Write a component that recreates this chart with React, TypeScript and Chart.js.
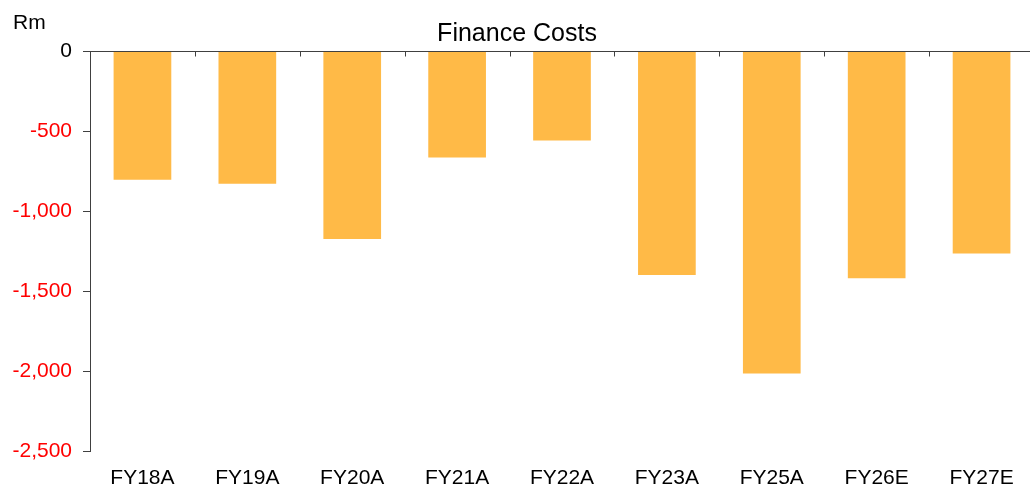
import React, { useEffect, useRef } from "react";
import { Chart, registerables } from "chart.js";

Chart.register(...registerables);

const categories = ["FY18A", "FY19A", "FY20A", "FY21A", "FY22A", "FY23A", "FY25A", "FY26E", "FY27E"];
const financeCosts = [-805, -830, -1175, -665, -560, -1400, -2015, -1420, -1265];
const yMin = -2500;
const yMax = 0;
const yStep = 500;
const titleText = "Finance Costs";
const unitText = "Rm";

const FONT = "'Liberation Sans', Arial, sans-serif";
const AXIS_COLOR = "#404040";

const fmt = new Intl.NumberFormat("en-US");

const axisPlugin = {
  id: "zeroAxis",
  afterDatasetsDraw(chart: any) {
    const { ctx, chartArea, scales } = chart;
    const y0 = Math.round(scales.y.getPixelForValue(0)) + 0.5;
    const xs = scales.x;
    ctx.save();
    ctx.strokeStyle = AXIS_COLOR;
    ctx.lineWidth = 1;
    ctx.beginPath();
    ctx.moveTo(chartArea.left, y0);
    ctx.lineTo(chartArea.right, y0);
    const n = categories.length;
    for (let i = 1; i < n; i++) {
      const bx = Math.round((xs.getPixelForValue(i - 1) + xs.getPixelForValue(i)) / 2) + 0.5;
      ctx.moveTo(bx, y0);
      ctx.lineTo(bx, y0 + 5);
    }
    ctx.stroke();
    ctx.fillStyle = "#000000";
    ctx.font = `21px ${FONT}`;
    ctx.textAlign = "left";
    ctx.textBaseline = "alphabetic";
    ctx.fillText(unitText, 13, 28.5);
    ctx.restore();
  },
};

export default function App() {
  const ref = useRef<HTMLCanvasElement | null>(null);
  useEffect(() => {
    if (!ref.current) return;
    const chart = new Chart(ref.current, {
      type: "bar",
      data: {
        labels: categories,
        datasets: [
          {
            data: financeCosts,
            backgroundColor: "#FFBA47",
            borderWidth: 0,
            categoryPercentage: 1,
            barPercentage: 0.55,
          },
        ],
      },
      options: {
        animation: false,
        responsive: false,
        devicePixelRatio: 1,
        layout: { padding: { top: 0, left: 0, right: 2, bottom: 0 } },
        plugins: {
          legend: { display: false },
          tooltip: { enabled: false },
          title: {
            display: true,
            text: titleText,
            color: "#000000",
            font: { family: FONT, size: 25, weight: "normal" },
            padding: { top: 19, bottom: 2 },
          },
        },
        scales: {
          x: {
            grid: { display: false },
            border: { display: false },
            ticks: {
              color: "#000000",
              font: { family: FONT, size: 21 },
              padding: 7,
              maxRotation: 0,
              autoSkip: false,
            },
            afterFit(scale: any) {
              scale.height = 38;
            },
          },
          y: {
            min: yMin,
            max: yMax,
            grid: {
              display: true,
              drawOnChartArea: false,
              tickLength: 7,
              color: AXIS_COLOR,
            },
            border: { display: true, color: AXIS_COLOR },
            ticks: {
              stepSize: yStep,
              padding: 11,
              font: { family: FONT, size: 21 },
              color: (c: any) => (c.tick && c.tick.value < 0 ? "#FF0000" : "#000000"),
              callback: (v: any) => fmt.format(Number(v)),
            },
            afterFit(scale: any) {
              scale.width = 90;
            },
          },
        },
      },
      plugins: [axisPlugin],
    });
    return () => chart.destroy();
  }, []);
  return (
    <div style={{ position: "fixed", left: 0, top: 0, width: 1030, height: 489, overflow: "hidden", background: "#fff" }}>
      <canvas ref={ref} width={1036} height={489} style={{ display: "block" }} />
    </div>
  );
}
